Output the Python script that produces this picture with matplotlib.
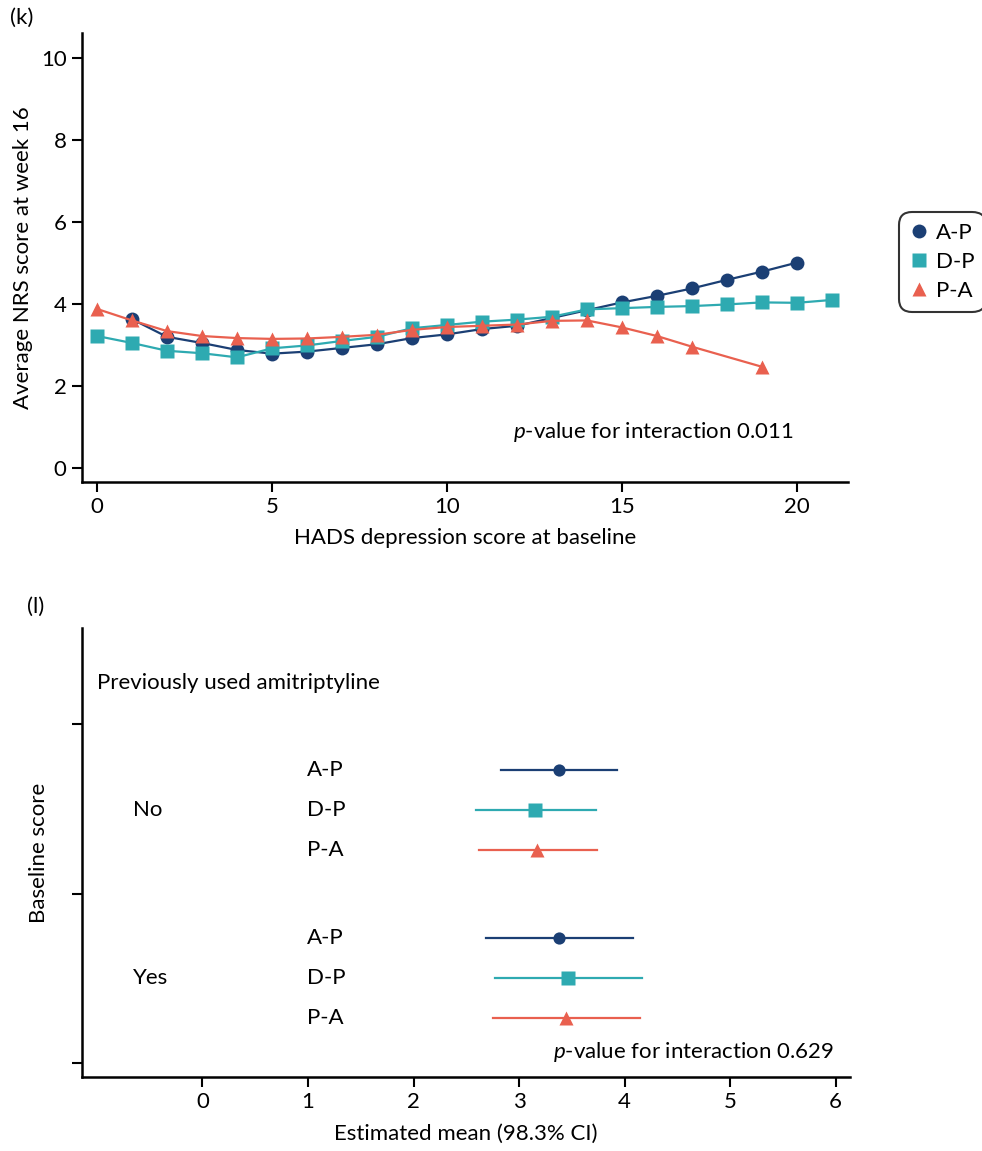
import matplotlib
matplotlib.use("Agg")
import matplotlib.pyplot as plt
from matplotlib.lines import Line2D

plt.rcParams['font.family'] = ['Lato', 'DejaVu Sans']
plt.rcParams['mathtext.fontset'] = 'custom'
plt.rcParams['mathtext.rm'] = 'Lato'
plt.rcParams['mathtext.it'] = 'Lato:italic'

# ---------------- data: panel (k) ----------------
ap_x = [1, 2, 3, 4, 5, 6, 7, 8, 9, 10, 11, 12, 13, 14, 15, 16, 17, 18, 19, 20]
ap_y = [3.63, 3.2, 3.05, 2.88, 2.79, 2.84, 2.93, 3.02, 3.17, 3.26, 3.39, 3.47, 3.66, 3.85, 4.04, 4.2, 4.38, 4.59, 4.79, 5.01]
dp_x = list(range(0, 22))
dp_y = [3.22, 3.05, 2.86, 2.8, 2.7, 2.92, 2.99, 3.1, 3.2, 3.41, 3.49, 3.57, 3.62, 3.69, 3.87, 3.9, 3.93, 3.95, 3.99, 4.04, 4.03, 4.1]
pa_x = [0, 1, 2, 3, 4, 5, 6, 7, 8, 9, 10, 11, 12, 13, 14, 15, 16, 17, 19]
pa_y = [3.88, 3.6, 3.34, 3.22, 3.17, 3.15, 3.16, 3.2, 3.25, 3.37, 3.44, 3.47, 3.5, 3.59, 3.6, 3.43, 3.22, 2.96, 2.47]
k_xticks = [0, 5, 10, 15, 20]
k_yticks = [0, 2, 4, 6, 8, 10]

# ---------------- data: panel (l) ----------------
groups = ['No', 'Yes']
treatments = ['A-P', 'D-P', 'P-A']
est_mean = [[3.38, 3.15, 3.17], [3.38, 3.46, 3.45]]
ci_low = [[2.83, 2.59, 2.62], [2.69, 2.77, 2.75]]
ci_high = [[3.93, 3.73, 3.74], [4.08, 4.17, 4.15]]
l_xticks = [0, 1, 2, 3, 4, 5, 6]

colors = {'A-P': '#1b3f74', 'D-P': '#2eaab1', 'P-A': '#e9604f'}
markers = {'A-P': 'o', 'D-P': 's', 'P-A': '^'}

FS = 16
fig = plt.figure(figsize=(9.82, 11.51), dpi=100)

# ---------------- panel (k) ----------------
ax1 = fig.add_axes([82/982, 1-482/1151, (848-82)/982, (482-33)/1151])
series = [('A-P', ap_x, ap_y, 10), ('D-P', dp_x, dp_y, 10), ('P-A', pa_x, pa_y, 9.5)]
for name, xs, ys, ms in series:
    ax1.plot(xs, ys, color=colors[name], lw=1.6, marker=markers[name],
             ms=ms, mec='none', label=name, zorder=3)
ax1.set_xlim(-0.43, 21.46)
ax1.set_ylim(-0.34, 10.61)
ax1.set_xticks(k_xticks)
ax1.set_yticks(k_yticks)
ax1.set_xlabel('HADS depression score at baseline', fontsize=FS, labelpad=8)
ax1.set_ylabel('Average NRS score at week 16', fontsize=FS)
ax1.yaxis.set_label_coords((33-82)/766, 0.5)
ax1.text(19.9, 0.88, r'$\it{p}$-value for interaction 0.011', ha='right', va='center', fontsize=FS)

handles = [Line2D([], [], ls='none', marker=markers[n], color=colors[n], ms=ms, mec='none')
           for n, _, _, ms in series]
leg = fig.legend(handles, treatments, loc='upper left', bbox_to_anchor=(899/982, 1-212/1151),
                 fontsize=FS, frameon=True, handlelength=0.8, handletextpad=0.37,
                 labelspacing=0.4, borderpad=0.5, borderaxespad=0)
leg.get_frame().set_edgecolor('black')
leg.get_frame().set_linewidth(1.5)
leg.get_frame().set_boxstyle('round,pad=0.0,rounding_size=0.6')

# ---------------- panel (l) ----------------
ax2 = fig.add_axes([82/982, 1-1077/1151, (850-82)/982, (1077-628)/1151])
row_pos = [[3.55, 4.55, 5.55], [7.75, 8.75, 9.75]]
group_pos = [4.55, 8.75]
ms_l = {'A-P': 8.8, 'D-P': 9.5, 'P-A': 9.5}
for gi, g in enumerate(groups):
    ax2.text(-0.66, group_pos[gi], g, ha='left', va='center', fontsize=FS)
    for ti, t in enumerate(treatments):
        y = row_pos[gi][ti]
        ax2.plot([ci_low[gi][ti], ci_high[gi][ti]], [y, y], color=colors[t], lw=1.6, zorder=2)
        ax2.plot(est_mean[gi][ti], y, marker=markers[t], color=colors[t], ms=ms_l[t],
                 mec='none', ls='none', zorder=3)
        ax2.text(0.99, y, t, ha='left', va='center', fontsize=FS)
ax2.text(-1.0, 1.375, 'Previously used amitriptyline', ha='left', va='center', fontsize=FS)
ax2.text(5.98, 10.6, r'$\it{p}$-value for interaction 0.629', ha='right', va='center', fontsize=FS)
ax2.set_xlim(-1.142, 6.137)
ax2.set_ylim(11.225, 0)
ax2.set_xticks(l_xticks)
ax2.set_yticks([2.4, 6.65, 10.875])
ax2.set_yticklabels([])
ax2.set_xlabel('Estimated mean (98.3% CI)', fontsize=FS, labelpad=8)
ax2.set_ylabel('Baseline score', fontsize=FS)
ax2.yaxis.set_label_coords((49-82)/768, 0.5)

for ax in (ax1, ax2):
    for s in ('top', 'right'):
        ax.spines[s].set_visible(False)
    for s in ('left', 'bottom'):
        ax.spines[s].set_linewidth(1.8)
    ax.tick_params(axis='both', which='major', labelsize=FS, length=7, width=1.5,
                   direction='out', pad=4)

fig.text(10/982, 1-18/1151, '(k)', ha='left', va='center', fontsize=FS)
fig.text(27/982, 1-607/1151, '(l)', ha='left', va='center', fontsize=FS)

fig.savefig('out.png', dpi=100)
